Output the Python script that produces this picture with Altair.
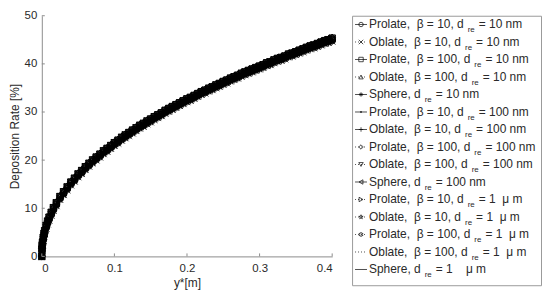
import altair as alt
import pandas as pd

# ---------------- data ----------------
x_vals = [0, 0.0002, 0.0005, 0.001, 0.002, 0.003, 0.004, 0.006, 0.008, 0.010,
          0.013, 0.016, 0.020, 0.025, 0.030, 0.035, 0.040, 0.045, 0.050,
          0.055, 0.060, 0.065, 0.070, 0.075, 0.080, 0.085, 0.090, 0.095, 0.100,
          0.105, 0.110, 0.115, 0.120, 0.125, 0.130, 0.135, 0.140, 0.145, 0.150,
          0.155, 0.160, 0.165, 0.170, 0.175, 0.180, 0.185, 0.190, 0.195, 0.200,
          0.205, 0.210, 0.215, 0.220, 0.225, 0.230, 0.235, 0.240, 0.245, 0.250,
          0.255, 0.260, 0.265, 0.270, 0.275, 0.280, 0.285, 0.290, 0.295, 0.300,
          0.305, 0.310, 0.315, 0.320, 0.325, 0.330, 0.335, 0.340, 0.345, 0.350,
          0.355, 0.360, 0.365, 0.370, 0.375, 0.380, 0.385, 0.390, 0.395, 0.400]
base_rate = [0.0, 1.2, 1.9, 2.6, 3.6, 4.4, 5.0, 6.1, 7.0, 7.8,
             8.8, 9.8, 10.8, 12.1, 13.1, 14.1, 15.1, 15.9, 16.8,
             17.5, 18.3, 19.0, 19.7, 20.3, 20.9, 21.6, 22.1, 22.7, 23.3,
             23.8, 24.4, 24.9, 25.4, 25.9, 26.4, 26.9, 27.3, 27.8, 28.2,
             28.7, 29.1, 29.5, 30.0, 30.4, 30.8, 31.2, 31.6, 32.0, 32.4,
             32.7, 33.1, 33.5, 33.9, 34.2, 34.6, 34.9, 35.3, 35.6, 36.0,
             36.3, 36.7, 37.0, 37.3, 37.7, 38.0, 38.3, 38.6, 38.9, 39.2,
             39.5, 39.9, 40.1, 40.5, 40.8, 41.0, 41.3, 41.7, 41.9, 42.2,
             42.5, 42.8, 43.1, 43.4, 43.6, 43.9, 44.2, 44.5, 44.7, 45.0]

series_prefix = [
    "Prolate,\u00a0\u00a0β = 10, d", "Oblate,\u00a0\u00a0β = 10, d",
    "Prolate,\u00a0\u00a0β = 100, d", "Oblate,\u00a0\u00a0β = 100, d",
    "Sphere, d",
    "Prolate,\u00a0\u00a0β = 10, d", "Oblate,\u00a0\u00a0β = 10, d",
    "Prolate,\u00a0\u00a0β = 100, d", "Oblate,\u00a0\u00a0β = 100, d",
    "Sphere, d",
    "Prolate,\u00a0\u00a0β = 10, d", "Oblate,\u00a0\u00a0β = 10, d",
    "Prolate,\u00a0\u00a0β = 100, d", "Oblate,\u00a0\u00a0β = 100, d",
    "Sphere, d",
]
series_rest = ["= 10 nm"] * 5 + ["= 100 nm"] * 5 + \
    ["= 1\u00a0\u00a0μ m"] * 4 + ["= 1\u00a0\u00a0\u00a0\u00a0μ m"]
series_offset = [0.0, -0.3, 0.3, 0.6, -0.2, 0.0, -0.4, 0.5, 0.4, 0.1,
                 0.3, -0.3, 0.2, 0.0, -0.1]

P_X = "M-1,-1L1,1M-1,1L1,-1"
P_PLUS = "M-1,0L1,0M0,-1L0,1"
P_STAR = "M-1,0L1,0M0,-1L0,1M-0.7,-0.7L0.7,0.7M-0.7,0.7L0.7,-0.7"
P_DOT = "M-0.3,0A0.3,0.3 0 1,0 0.3,0A0.3,0.3 0 1,0 -0.3,0Z"
P_PENTA = ("M0,-1L0.225,-0.309L0.951,-0.309L0.363,0.118L0.588,0.809L0,0.382"
           "L-0.588,0.809L-0.363,0.118L-0.951,-0.309L-0.225,-0.309Z")
P_HEXA = ("M0,-1L0.289,-0.5L0.866,-0.5L0.577,0L0.866,0.5L0.289,0.5L0,1"
          "L-0.289,0.5L-0.866,0.5L-0.577,0L-0.866,-0.5L-0.289,-0.5Z")
series_shape = ["circle", P_X, "square", "triangle-up", P_STAR, P_DOT, P_PLUS,
                "diamond", "triangle-down", "triangle-left", "triangle-right",
                P_PENTA, P_HEXA, "", ""]
series_dash = ["solid", "dot", "solid", "dot", "solid", "solid", "solid", "dot",
               "dot", "solid", "dot", "dot", "dot", "dot", "solid"]

x_ticks = [0, 0.1, 0.2, 0.3, 0.4]
y_ticks = [0, 10, 20, 30, 40, 50]

# ---------------- build tables ----------------
rows = []
for i in range(15):
    for xv, bv in zip(x_vals, base_rate):
        rows.append({"series": i, "x": xv, "y": max(0.0, bv + series_offset[i]) if xv > 0 else 0.0,
                     "shape": series_shape[i], "dash": series_dash[i]})
df = pd.DataFrame(rows)
df_mk = df[df["shape"] != ""]

W_ARIAL = {' ': 278, '\u00a0': 278, ',': 278, '.': 278, '=': 584, 'P': 667, 'O': 778,
           'S': 667, 'a': 556, 'b': 556, 'd': 556, 'e': 556, 'h': 556, 'l': 222,
           'o': 556, 'p': 556, 'r': 333, 't': 278, 'n': 556, 'm': 833, 'β': 575,
           'μ': 577}


def text_w(s, size):
    return sum(W_ARIAL.get(c, 556) for c in s) * size / 1000.0


TX = 17
leg = []
for i in range(15):
    sub_x = TX + text_w(series_prefix[i], 12) + 4
    rest_x = sub_x + text_w("re", 8) + 4
    leg.append({"row": i, "prefix": series_prefix[i], "sub": "re", "rest": series_rest[i],
                "sub_x": sub_x, "rest_x": rest_x, "shape": series_shape[i],
                "dash": series_dash[i]})
leg_df = pd.DataFrame(leg)
leg_mk = leg_df[leg_df["shape"] != ""]

# ---------------- main plot ----------------
W, H = 292, 242
AX = "#8c8c8c"
TXT = "#2a2a2a"
FONT = "Liberation Sans"

dash_scale = alt.Scale(domain=["solid", "dot"], range=[[1, 0], [1, 2]])

xenc = alt.X("x:Q", scale=alt.Scale(domain=[0, 0.4], nice=False),
             axis=alt.Axis(values=x_ticks, format=".1~f", title="y*[m]", ticks=False,
                           grid=False, domainColor=AX, labelColor=TXT, titleColor=TXT,
                           labelFontSize=11.5, titleFontSize=12, labelPadding=6,
                           titlePadding=4, titleFontWeight="normal", labelFont=FONT,
                           titleFont=FONT))
yenc = alt.Y("y:Q", scale=alt.Scale(domain=[0, 50], nice=False),
             axis=alt.Axis(values=y_ticks, title="Deposition Rate [%]", ticks=False,
                           grid=False, domainColor=AX, labelColor=TXT, titleColor=TXT,
                           labelFontSize=11.5, titleFontSize=12, labelPadding=5,
                           titlePadding=3, titleFontWeight="normal", labelFont=FONT,
                           titleFont=FONT))

lines = alt.Chart(df).mark_line(color="black", strokeWidth=0.8).encode(
    x=xenc, y=yenc, detail="series:N",
    strokeDash=alt.StrokeDash("dash:N", scale=dash_scale, legend=None),
)
points = alt.Chart(df_mk).mark_point(filled=False, color="black", size=44,
                                      strokeWidth=0.8, opacity=1).encode(
    x="x:Q", y="y:Q", shape=alt.Shape("shape:N", scale=None),
)
xt = alt.Chart(pd.DataFrame({"x": x_ticks})).mark_rule(color=AX).encode(
    x="x:Q", y=alt.value(H), y2=alt.value(H - 3))
yt = alt.Chart(pd.DataFrame({"y": y_ticks})).mark_rule(color=AX).encode(
    y="y:Q", x=alt.value(0), x2=alt.value(3))

main = alt.layer(lines, points, xt, yt).properties(
    width=W, height=H, view=alt.ViewBackground(stroke=None))

# ---------------- legend box ----------------
LW, LH = 190, 271
yrow = alt.Y("row:Q", scale=alt.Scale(domain=[-0.5, 14.9], reverse=True, nice=False,
                                       zero=False), axis=None)
lg_line = alt.Chart(leg_df).mark_rule(color="black", strokeWidth=0.7).encode(
    y=yrow, x=alt.value(3), x2=alt.value(15),
    strokeDash=alt.StrokeDash("dash:N", scale=dash_scale, legend=None))
lg_pt = alt.Chart(leg_mk).mark_point(filled=False, color="black", size=20,
                                      strokeWidth=0.7, opacity=1).encode(
    y="row:Q", x=alt.value(9), shape=alt.Shape("shape:N", scale=None))
lg_t1 = alt.Chart(leg_df).mark_text(align="left", baseline="middle", fontSize=12,
                                     font=FONT, color=TXT).encode(
    y="row:Q", x=alt.value(TX), text="prefix:N")
lg_t2 = alt.Chart(leg_df).mark_text(align="left", baseline="middle", fontSize=8,
                                     font=FONT, color=TXT, dy=6).encode(
    y="row:Q", x=alt.X("sub_x:Q", scale=None, axis=None), text="sub:N")
lg_t3 = alt.Chart(leg_df).mark_text(align="left", baseline="middle", fontSize=12,
                                     font=FONT, color=TXT).encode(
    y="row:Q", x=alt.X("rest_x:Q", scale=None, axis=None), text="rest:N")

legend = alt.layer(lg_line, lg_pt, lg_t1, lg_t2, lg_t3).properties(
    width=LW, height=LH, view=alt.ViewBackground(stroke="#9a9a9a", strokeWidth=1,
                                                  fill="white"))

chart = alt.hconcat(main, legend, spacing=20, bounds="flush").properties(
    padding={"left": 0, "top": 1, "right": 0, "bottom": 0}
).configure_view(stroke=None).configure(font=FONT, background="white")

chart.save("out.html", embed_options={"renderer": "svg", "actions": False})
